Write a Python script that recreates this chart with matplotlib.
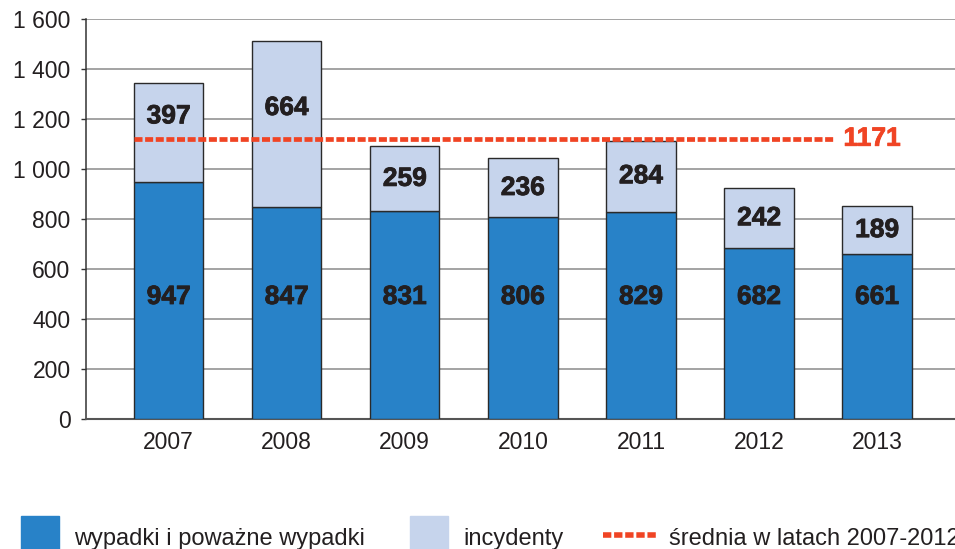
import matplotlib
matplotlib.use('Agg')
import matplotlib.pyplot as plt
import matplotlib.patheffects as pe
from matplotlib.patches import Rectangle
from matplotlib.lines import Line2D
import numpy as np

years = ['2007', '2008', '2009', '2010', '2011', '2012', '2013']
wypadki = [947, 847, 831, 806, 829, 682, 661]
incydenty = [397, 664, 259, 236, 284, 242, 189]
avg_label = '1171'
avg_line = 1118  # where the dashed line sits in the picture
yticks = [0, 200, 400, 600, 800, 1000, 1200, 1400, 1600]
ytick_labels = ['0', '200', '400', '600', '800', '1 000', '1 200', '1 400', '1 600']
legend_labels = ['wypadki i poważne wypadki', 'incydenty', 'średnia w latach 2007-2012']

dark_blue = '#2882c8'
light_blue = '#c6d4ec'
red = '#f04424'
txt = '#231f20'

plt.rcParams['font.family'] = ['Liberation Sans', 'DejaVu Sans']

fig = plt.figure(figsize=(9.55, 5.49), dpi=100)
ax = fig.add_axes([0.090, 0.2368, 0.915, 0.7286])

x = np.arange(len(years))
ax.bar(x, wypadki, width=0.588, color=dark_blue, edgecolor='#2a2a2a', linewidth=1, zorder=3)
ax.bar(x, incydenty, width=0.588, bottom=wypadki, color=light_blue, edgecolor='#2a2a2a',
       linewidth=1, zorder=3)

heavy = [pe.withStroke(linewidth=0.6, foreground=txt)]
for i in range(len(years)):
    ax.text(x[i], 488, str(wypadki[i]), ha='center', va='center', fontsize=19,
            fontweight='bold', color=txt, zorder=5, path_effects=heavy)
    top = wypadki[i] + incydenty[i]
    yl = wypadki[i] + incydenty[i] / 2
    if wypadki[i] < avg_line < top and incydenty[i] > 350:
        yl += 65  # keep the number clear of the dashed line
    ax.text(x[i], yl, str(incydenty[i]), ha='center', va='center', fontsize=19,
            fontweight='bold', color=txt, zorder=5, path_effects=heavy)

ax.plot([-0.294, 5.64], [avg_line, avg_line], color=red, linewidth=3.4,
        dashes=(1.7, 0.55), zorder=4)
ax.text(5.715, avg_line + 3, avg_label, color=red, fontsize=19, fontweight='bold',
        va='center', ha='left', path_effects=[pe.withStroke(linewidth=0.6, foreground=red)])

ax.set_xlim(-0.7, 6.7)
ax.set_ylim(0, 1600)
ax.set_yticks(yticks)
ax.set_yticklabels(ytick_labels)
ax.set_xticks(x)
ax.set_xticklabels(years)
ax.tick_params(axis='y', length=3.6, width=1, color='#333333', labelsize=16.5,
               labelcolor=txt, pad=7.5)
ax.tick_params(axis='x', length=0, labelsize=16.5, labelcolor=txt, pad=9)
ax.grid(axis='y', color='#8a8a8a', linewidth=1.1, zorder=0)
ax.set_axisbelow(True)
for s in ['top', 'right']:
    ax.spines[s].set_visible(False)
ax.spines['left'].set_color('#333333')
ax.spines['bottom'].set_color('#555555')
ax.spines['left'].set_linewidth(1.1)
ax.spines['bottom'].set_linewidth(1.5)

# legend along the bottom (last entry runs off the right edge, as in the original)
fig.add_artist(Rectangle((21 / 955, 0), 38 / 955, 33 / 549, transform=fig.transFigure,
                         color=dark_blue))
fig.text(74 / 955, 4 / 549, legend_labels[0], fontsize=17, color=txt, va='baseline')
fig.add_artist(Rectangle((410 / 955, 0), 38 / 955, 33 / 549, transform=fig.transFigure,
                         color=light_blue))
fig.text(463 / 955, 4 / 549, legend_labels[1], fontsize=17, color=txt, va='baseline')
fig.add_artist(Line2D([603 / 955, 656 / 955], [14 / 549, 14 / 549],
                      transform=fig.transFigure, color=red, linewidth=4,
                      dashes=(1.5, 0.5)))
fig.text(669 / 955, 4 / 549, legend_labels[2], fontsize=17, color=txt, va='baseline')

fig.savefig('out.png', dpi=100)
